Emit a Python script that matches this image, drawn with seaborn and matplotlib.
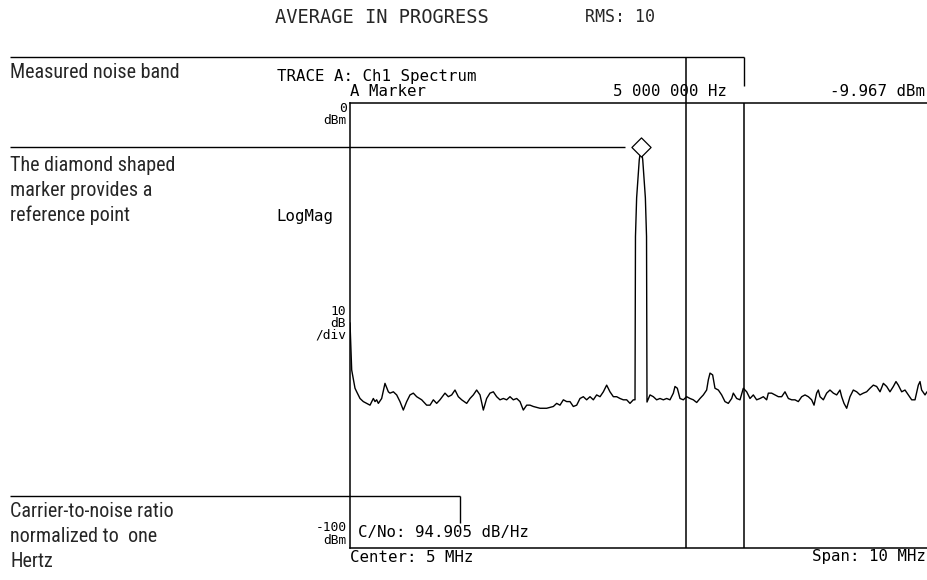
import numpy as np
import pandas as pd
import matplotlib
matplotlib.use("Agg")
import matplotlib.pyplot as plt
from matplotlib.lines import Line2D
from matplotlib import font_manager
import seaborn as sns

# ---------------- data ----------------
freq_mhz = [
    0.000, 0.009, 0.029, 0.086, 0.115, 0.172, 0.229, 0.286, 0.344, 0.401,
    0.430, 0.458, 0.487, 0.544, 0.601, 0.659, 0.687, 0.745, 0.802, 0.859,
    0.916, 0.974, 1.031, 1.088, 1.146, 1.232, 1.317, 1.375, 1.432, 1.489,
    1.546, 1.632, 1.690, 1.747, 1.804, 1.861, 1.919, 2.005, 2.062, 2.119,
    2.176, 2.234, 2.291, 2.348, 2.405, 2.463, 2.520, 2.577, 2.635, 2.692,
    2.749, 2.806, 2.864, 2.921, 2.978, 3.036, 3.093, 3.150, 3.265, 3.379,
    3.494, 3.551, 3.608, 3.666, 3.723, 3.780, 3.837, 3.895, 3.952, 4.009,
    4.066, 4.124, 4.181, 4.238, 4.296, 4.353, 4.410, 4.467, 4.525, 4.582,
    4.639, 4.696, 4.754, 4.811, 4.868, 4.897,
    4.905, 4.925, 4.970, 5.000, 5.030, 5.075, 5.095, 5.103,
    5.155, 5.212, 5.269, 5.326, 5.384, 5.441, 5.498, 5.556, 5.584, 5.624,
    5.670, 5.727, 5.785, 5.842, 5.899, 5.957, 6.014, 6.071, 6.128, 6.157,
    6.186, 6.231, 6.271, 6.329, 6.386, 6.443, 6.500, 6.558, 6.586, 6.644,
    6.701, 6.758, 6.816, 6.873, 6.930, 6.987, 7.045, 7.102, 7.159, 7.188,
    7.245, 7.302, 7.360, 7.417, 7.474, 7.532, 7.589, 7.646, 7.703, 7.761,
    7.818, 7.875, 7.932, 7.973, 8.018, 8.047, 8.076, 8.133, 8.190, 8.247,
    8.305, 8.362, 8.419, 8.448, 8.488, 8.534, 8.591, 8.648, 8.706, 8.763,
    8.820, 8.877, 8.935, 8.992, 9.049, 9.107, 9.164, 9.221, 9.278, 9.336,
    9.381, 9.421, 9.479, 9.536, 9.593, 9.651, 9.708, 9.765, 9.794, 9.822,
    9.880, 9.914,
]
level_dbm = [
    -49.4, -52.6, -60.0, -64.1, -64.9, -66.4, -67.1, -67.5, -67.9, -66.4,
    -67.1, -66.7, -67.5, -66.4, -63.0, -64.9, -65.2, -64.9, -65.6, -67.1,
    -69.0, -67.1, -65.6, -65.2, -66.0, -66.7, -67.9, -67.9, -66.7, -67.5,
    -66.7, -65.2, -66.0, -65.6, -64.5, -66.0, -66.7, -67.5, -66.4, -65.6,
    -64.5, -65.6, -69.0, -66.4, -65.2, -64.9, -66.0, -66.7, -66.4, -66.7,
    -66.0, -66.7, -66.4, -67.1, -69.0, -67.9, -67.9, -68.2, -68.6, -68.6,
    -68.2, -67.5, -67.9, -66.7, -67.1, -67.1, -68.2, -67.9, -66.4, -66.0,
    -66.7, -66.0, -66.7, -65.6, -66.0, -64.9, -63.4, -64.9, -66.0, -66.0,
    -66.4, -66.7, -66.7, -67.5, -66.7, -66.7,
    -30.0, -21.3, -12.8, -9.967, -12.8, -21.3, -30.0, -67.2,
    -65.6, -66.0, -66.7, -66.4, -66.7, -66.4, -66.7, -65.2, -63.7, -64.1,
    -66.4, -66.7, -66.0, -66.4, -66.7, -67.3, -66.4, -65.6, -64.5, -62.2,
    -60.7, -61.1, -64.1, -64.5, -65.6, -67.1, -67.5, -66.4, -65.2, -66.4,
    -66.7, -64.1, -64.9, -66.4, -65.6, -66.7, -66.4, -66.0, -66.7, -65.2,
    -65.2, -65.6, -66.0, -66.0, -64.9, -66.4, -66.7, -66.7, -67.1, -66.0,
    -65.6, -66.0, -66.7, -67.9, -65.2, -64.5, -66.0, -66.7, -65.2, -64.5,
    -65.2, -65.6, -64.5, -66.0, -67.5, -68.6, -66.0, -64.5, -64.9, -65.6,
    -65.2, -64.9, -64.1, -63.4, -63.7, -64.9, -63.0, -63.7, -64.9, -63.7,
    -62.6, -63.4, -64.9, -64.5, -65.6, -66.7, -66.7, -63.4, -62.6, -64.5,
    -65.6, -64.9,
]
marker_freq = 5.0
marker_level = -9.967
band_edges = [5.78, 6.77]
x_range = [0, 10]
y_range = [-100, 0]

header_text = "AVERAGE IN PROGRESS"
rms_text = "RMS: 10"
trace_title = "TRACE A: Ch1 Spectrum"
marker_label = "A Marker"
marker_freq_text = "5 000 000 Hz"
marker_level_text = "-9.967 dBm"
cno_text = "C/No: 94.905 dB/Hz"
center_text = "Center: 5 MHz"
span_text = "Span: 10 MHz"
top_ref_labels = ["0", "dBm"]
scale_labels = ["10", "dB", "/div"]
bottom_ref_labels = ["-100", "dBm"]
format_label = "LogMag"
note_band = ["Measured noise band"]
note_marker = ["The diamond shaped", "marker provides a", "reference point"]
note_cno = ["Carrier-to-noise ratio", "normalized to  one", "Hertz"]

# ---------------- style ----------------
sns.set_style("white")
plt.rcParams["font.family"] = ["DejaVu Sans"]

names = {f.name for f in font_manager.fontManager.ttflist}
if "Liberation Sans Narrow" in names:
    note_font = dict(family="Liberation Sans Narrow", size=15)
elif "Roboto Condensed" in names:
    note_font = dict(family="Roboto Condensed", size=14.5)
elif "DejaVu Sans Condensed" in names:
    note_font = dict(family="DejaVu Sans", stretch="condensed", size=13)
else:
    note_font = dict(family="Liberation Sans", size=13)
mono = dict(family="DejaVu Sans Mono", size=11.3, color="black")
mono_small = dict(family="DejaVu Sans Mono", size=9.3, color="black")

W, H = 927, 580
fig = plt.figure(figsize=(W / 100, H / 100), dpi=100)
fig.patch.set_facecolor("white")


def fx(px):
    return px / W


def fy(py):
    return 1 - py / H


ax = fig.add_axes([fx(350), fy(548), 582 / W, 445 / H])

df = pd.DataFrame({"freq": freq_mhz, "level": level_dbm})
sns.lineplot(data=df, x="freq", y="level", ax=ax, color="black",
             linewidth=1.0, estimator=None, sort=False)
ax.set_xlim(*x_range)
ax.set_ylim(*y_range)
ax.set_xticks([])
ax.set_yticks([])
ax.set_xlabel("")
ax.set_ylabel("")
for side in ["left", "top", "bottom"]:
    ax.spines[side].set_visible(True)
    ax.spines[side].set_color("black")
    ax.spines[side].set_linewidth(1.1)
ax.spines["right"].set_visible(False)

# noise band lines inside the graticule
ax.vlines(band_edges, y_range[0], y_range[1], color="black", lw=1.1)

# diamond marker
sns.scatterplot(x=[marker_freq], y=[marker_level], ax=ax, marker="D", s=95,
                facecolor="white", edgecolor="black", linewidth=0.9, zorder=5)


def d2f(x, y):
    return fig.transFigure.inverted().transform(ax.transData.transform((x, y)))


def fline(xs, ys, lw=1.0):
    fig.add_artist(Line2D(xs, ys, transform=fig.transFigure, color="black",
                          lw=lw, solid_capstyle="butt"))


# annotation: measured noise band bracket
lo = d2f(band_edges[0], 0)[0]
hi = d2f(band_edges[1], 0)[0]
fline([fx(10), hi], [fy(56.7), fy(56.7)])
fline([hi, hi], [fy(56.7), fy(86)])
fline([lo, lo], [fy(56.7), fy(103)], lw=1.1)

# annotation: marker line
mk = d2f(marker_freq, marker_level)
fline([fx(10), mk[0] - 16 / W], [mk[1], mk[1]])

# annotation: C/No line
fline([fx(10), fx(460)], [fy(495.7), fy(495.7)])
fline([fx(460), fx(460)], [fy(495.7), fy(523)])

# ---------------- texts ----------------
fig.text(fx(275), fy(17.5), header_text, ha="left", va="center",
         family="DejaVu Sans Mono", size=13.5)
fig.text(fx(585), fy(17.5), rms_text, ha="left", va="center",
         family="DejaVu Sans Mono", size=12)
fig.text(fx(277), fy(77), trace_title, ha="left", va="center", **mono)
fig.text(fx(350), fy(91.5), marker_label, ha="left", va="center", **mono)
fig.text(fx(727), fy(91.5), marker_freq_text, ha="right", va="center", **mono)
fig.text(fx(830), fy(91.5), marker_level_text, ha="left", va="center", **mono)
for lab, yy in zip(top_ref_labels, [108.5, 120.5]):
    fig.text(fx(347), fy(yy), lab, ha="right", va="center", **mono_small)
fig.text(fx(276), fy(216), format_label, ha="left", va="center", **mono)
for lab, yy in zip(scale_labels, [311.5, 323.5, 335.5]):
    fig.text(fx(346), fy(yy), lab, ha="right", va="center", **mono_small)
for lab, yy in zip(bottom_ref_labels, [527.5, 540]):
    fig.text(fx(347), fy(yy), lab, ha="right", va="center", **mono_small)
fig.text(fx(358), fy(532), cno_text, ha="left", va="center", **mono)
fig.text(fx(350), fy(557), center_text, ha="left", va="center", **mono)
fig.text(fx(812), fy(557), span_text, ha="left", va="center", **mono)

for i, line in enumerate(note_band):
    fig.text(fx(10), fy(78 + 25 * i), line, ha="left", va="baseline", **note_font)
for i, line in enumerate(note_marker):
    fig.text(fx(10), fy(171 + 25 * i), line, ha="left", va="baseline", **note_font)
for i, line in enumerate(note_cno):
    fig.text(fx(10), fy(517 + 25 * i), line, ha="left", va="baseline", **note_font)

fig.savefig("out.png", dpi=100, facecolor="white")
